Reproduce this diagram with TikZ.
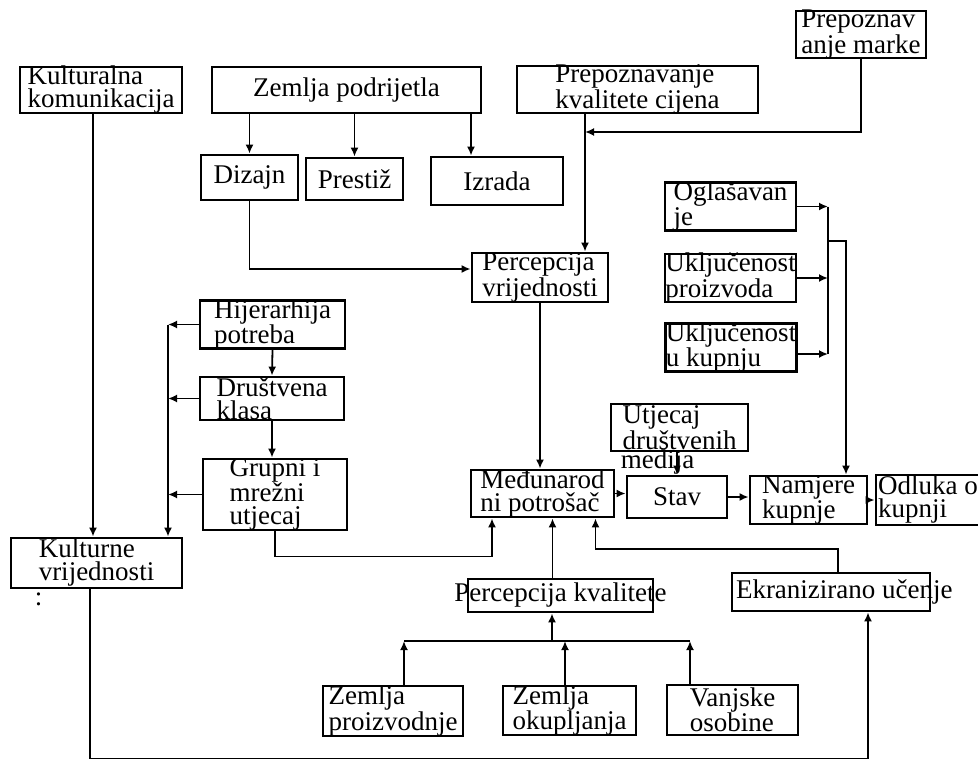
\documentclass[tikz,border=0pt]{standalone}
\usepackage{fontspec}
\setmainfont{Liberation Serif}
\usetikzlibrary{arrows.meta}

\begin{document}
\begin{tikzpicture}[x=1pt, y=-1pt,
  >={Latex[length=9pt,width=8pt]},
  box/.style={draw, line width=2.8pt, align=left, inner xsep=0pt, inner ysep=-1pt,
    font=\fontsize{27}{23}\selectfont},
  spill/.style={inner sep=0pt, anchor=base west, font=\fontsize{27}{23}\selectfont},
  con/.style={line width=1.8pt}]
  \useasboundingbox (0,0) rectangle (978,760);
  \clip (0,0) rectangle (978,760);
  \node[box, minimum width=162pt, minimum height=46pt] (kkom) at (101,90) {Kulturalna\\komunikacija};
  \node[box, minimum width=269pt, minimum height=46pt] (zpod) at (346.5,90) {Zemlja podrijetla};
  \node[box, minimum width=97pt, minimum height=45pt] (diz) at (249.5,177.5) {Dizajn};
  \node[box, minimum width=97pt, minimum height=42pt] (pres) at (354.5,179) {Prestiž};
  \node[box, minimum width=132pt, minimum height=48pt] (izr) at (497,181) {Izrada};
  \node[box, minimum width=130pt, minimum height=47pt] (pmar) at (861,34.5) {Prepoznav\\anje marke};
  \node[box, minimum width=241pt, minimum height=45pt] (pkc) at (637.5,89.5) {Prepoznavanje\\kvalitete cijena};
  \node[box, minimum width=136pt, minimum height=49pt] (pvr) at (540,277.5) {Percepcija\\vrijednosti};
  \node[box, minimum width=131pt, minimum height=47pt] (ogl) at (730.5,206.5) {Oglašavan\\je};
  \node[box, minimum width=131pt, minimum height=48pt] (uproi) at (730.5,278) {Uključenost\\proizvoda};
  \node[box, minimum width=130pt, minimum height=47pt] (ukup) at (731,347.5) {Uključenost\\u kupnju};
  \node[box, minimum width=145pt, minimum height=45pt] (hij) at (272.5,324.5) {Hijerarhija\\potreba};
  \node[box, minimum width=144pt, minimum height=43pt] (drus) at (272,398.5) {Društvena\\klasa};
  \node[box, minimum width=144pt, minimum height=71pt] (grup) at (275,494.5) {Grupni i\\mrežni\\utjecaj};
  \node[box, minimum width=171pt, minimum height=50pt] (kvr) at (96.5,563) {Kulturne\\vrijednosti};
  \node[spill] (kvrc) at ([xshift=25pt,yshift=-16pt]kvr.south west) {:};
  \node[box, minimum width=143pt, minimum height=47pt] (medj) at (542.5,493.5) {Međunarod\\ni potrošač};
  \node[box, minimum width=137pt, minimum height=47pt] (utj) at (679.5,427.5) {Utjecaj\\društvenih};
  \node[spill] (utjm) at ([xshift=11pt,yshift=-16pt]utj.south west) {medija};
  \node[box, minimum width=100pt, minimum height=42pt] (stav) at (677,497) {Stav};
  \node[box, minimum width=117pt, minimum height=48pt] (namj) at (808.5,500) {Namjere\\kupnje};
  \node[box, minimum width=104pt, minimum height=50pt] (odl) at (928,500) {Odluka o\\kupnji};
  \node[box, minimum width=185pt, minimum height=33pt, inner xsep=-13.5pt] (pkv) at (560.5,595.5) {Percepcija kvalitete};
  \node[box, minimum width=198pt, minimum height=38pt, inner xsep=4pt] (ekr) at (831,592) {\makebox[190pt][l]{Ekranizirano učenje}};
  \node[box, minimum width=140pt, minimum height=50pt] (zpro) at (393,711) {Zemlja\\proizvodnje};
  \node[box, minimum width=133pt, minimum height=49pt] (zoku) at (569.5,710.5) {Zemlja\\okupljanja};
  \node[box, minimum width=131pt, minimum height=50pt] (vanj) at (732.5,710) {Vanjske\\osobine};

  \draw[con,->] ([xshift=-8pt]kkom.south) -- ([xshift=-8pt]kkom.south |- kvr.north);
  \draw[con,->] (diz.north |- zpod.south) -- (diz.north);
  \draw[con,->] (pres.north |- zpod.south) -- (pres.north);
  \draw[con,->] ([xshift=-26pt]izr.north |- zpod.south) -- ([xshift=-26pt]izr.north);
  \draw[con,->] (diz.south) |- ([yshift=8.5pt]pvr.west);
  \coordinate (mj) at (585,132);
  \draw[con,->] (pkc.south -| mj) -- (mj |- pvr.north);
  \draw[con,->] (pmar.south) |- (mj);
  \draw[con,->] (pvr.south) -- (pvr.south |- medj.north);
  \coordinate (rb) at (828,241);
  \draw[con,->] (ogl.east) -- (ogl.east -| rb);
  \draw[con,->] (uproi.east) -- (uproi.east -| rb);
  \draw[con,->] ([yshift=-6.5pt]ukup.east) -- ([yshift=-6.5pt]ukup.east -| rb);
  \draw[con] (ogl.east -| rb) -- ([yshift=-6.5pt]ukup.east -| rb);
  \draw[con,->] (rb) -| ([xshift=37.5pt]namj.north);
  \coordinate (lb) at (168,323);
  \draw[con,->] (hij.west) -- (hij.west -| lb);
  \draw[con,->] (drus.west) -- (drus.west -| lb);
  \draw[con,->] (grup.west) -- (grup.west -| lb);
  \draw[con,->] (hij.west -| lb) -- (lb |- kvr.north);
  \draw[con,->] (hij.south) -- (drus.north);
  \draw[con,->] (drus.south) -- (drus.south |- grup.north);
  \draw[con,->] (grup.south) -- ++(0,25) -| ([xshift=-50.5pt]medj.south);
  \draw[con,->] ([xshift=10pt]medj.south |- pkv.north) -- ([xshift=10pt]medj.south);
  \draw[con,->] ([xshift=7pt]ekr.north) -- ++(0,-23) -| ([xshift=53pt]medj.south);
  \draw[con,->] (medj.east) -- (medj.east -| stav.west);
  \draw[con,->] (stav.north |- utj.south) -- (stav.north);
  \draw[con,->] (stav.east) -- (stav.east -| namj.west);
  \draw[con,->] (namj.east) -- (namj.east -| odl.west);
  \coordinate (fk) at (552,641);
  \draw[con,->] (fk) -- (fk |- pkv.south);
  \draw[con] ([xshift=11pt]zpro.north |- fk) -- ([xshift=-42.5pt]vanj.north |- fk);
  \draw[con,->] ([xshift=11pt]zpro.north) -- ([xshift=11pt]zpro.north |- fk);
  \draw[con,->] ([xshift=-4.5pt]zoku.north) -- ([xshift=-4.5pt]zoku.north |- fk);
  \draw[con,->] ([xshift=-42.5pt]vanj.north) -- ([xshift=-42.5pt]vanj.north |- fk);
  \draw[con,->] ([xshift=-6.5pt]kvr.south) -- ++(0,169) -| ([xshift=37pt]ekr.south);
\end{tikzpicture}
\end{document}
